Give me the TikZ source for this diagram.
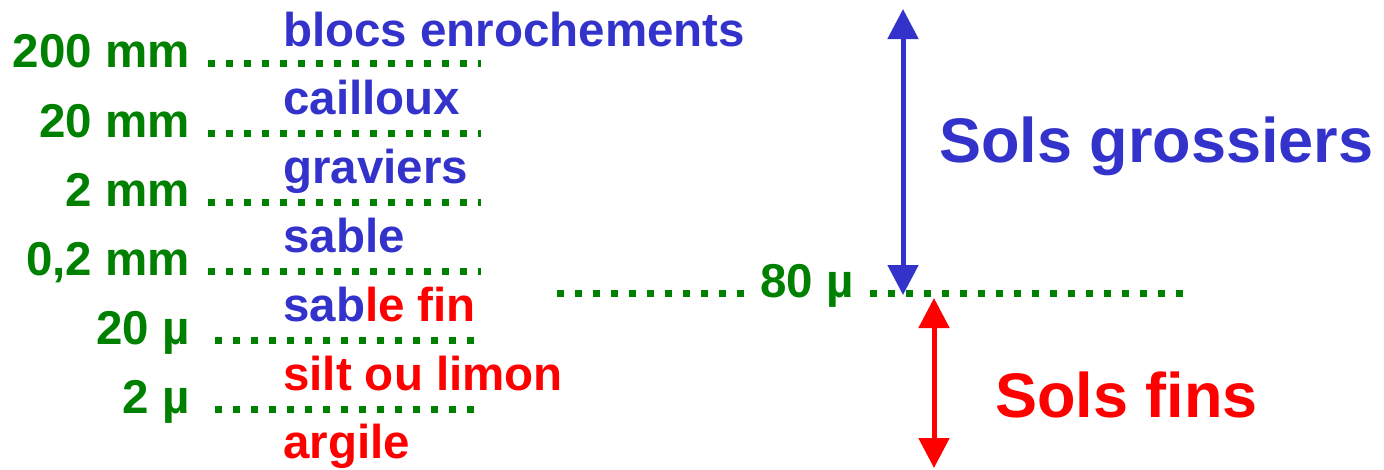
\documentclass[tikz,border=0pt]{standalone}
\usepackage{fontspec}
\setmainfont{Liberation Sans}
\usepackage{xcolor}
\usetikzlibrary{arrows.meta}
\usetikzlibrary{positioning}

\definecolor{sizegreen}{RGB}{0,128,0}
\definecolor{coarseblue}{RGB}{51,51,204}
\definecolor{finered}{RGB}{255,0,0}

\begin{document}
\begin{tikzpicture}[x=1pt, y=-1pt,
  every node/.style={inner sep=0pt, font=\bfseries\fontsize{47.5}{56}\selectfont},
  size/.style={anchor=base east, text=sizegreen},
  soil/.style={anchor=base west, text=coarseblue},
  dots/.style={sizegreen, line width=7pt, dash pattern=on 7pt off 11pt},
  big/.style={font=\bfseries\fontsize{63}{74}\selectfont, anchor=base west},
  soilspan/.style={line width=5pt, {Triangle[length=30pt,width=30pt]}-{Triangle[length=30pt,width=30pt]}}]
  \useasboundingbox (0,0) rectangle (1384,469);

  % sizes
  \node[size] (s1) at (190,67)  {200 mm};
  \node[size] (s2) at (190,137) {20 mm};
  \node[size] (s3) at (190,206) {2 mm};
  \node[size] (s4) at (190,275) {0,2 mm};
  \node[size] (s5) at (190,344) {20 µ};
  \node[size] (s6) at (190,413) {2 µ};

  \coordinate (e1) at (481,63);
  \coordinate (e2) at (481,133);
  \coordinate (e3) at (481,202);
  \coordinate (e4) at (481,271);
  \coordinate (e5) at (481,340);
  \coordinate (e6) at (481,409);

  \draw[dots] ([xshift=18pt,yshift=4pt]s1.base east) -- (e1);
  \draw[dots] ([xshift=18pt,yshift=4pt]s2.base east) -- (e2);
  \draw[dots] ([xshift=18pt,yshift=4pt]s3.base east) -- (e3);
  \draw[dots] ([xshift=18pt,yshift=4pt]s4.base east) -- (e4);
  \draw[dots] ([xshift=25pt,yshift=4pt]s5.base east) -- (e5);
  \draw[dots] ([xshift=25pt,yshift=4pt]s6.base east) -- (e6);

  % soil names
  \node[soil] (n1) at (283,46)  {blocs enrochements};
  \node[soil] (n2) at (283,114) {cailloux};
  \node[soil] (n3) at (283,183) {graviers};
  \node[soil] (n4) at (283,252) {sable};
  \node[soil] (n5) at (283,321) {sab\textcolor{finered}{le fin}};
  \node[soil, text=finered] (n6) at (283,390) {silt ou limon};
  \node[soil, text=finered] (n7) at (283,458) {argile};

  % 80 mu limit
  \node[anchor=base west, text=sizegreen] (m80) at (760,297) {80 µ};
  \coordinate (l0) at (557,293);
  \coordinate (r0) at (1184,293);
  \draw[dots] (l0) -- ([xshift=-14pt,yshift=4pt]m80.base west);
  \draw[dots] ([xshift=16pt,yshift=4pt]m80.base east) -- (r0);

  % coarse / fine
  \coordinate (gtop) at (903,9);
  \coordinate (gbot) at (903,295);
  \coordinate (ftop) at (934,298);
  \coordinate (fbot) at (934,468);
  \draw[soilspan, coarseblue] (gtop) -- (gbot);
  \draw[soilspan, finered] (ftop) -- (fbot);

  \node[big, text=coarseblue] (sg) at (939,162) {Sols grossiers};
  \node[big, text=finered] (sf) at (995,417) {Sols fins};
\end{tikzpicture}
\end{document}
